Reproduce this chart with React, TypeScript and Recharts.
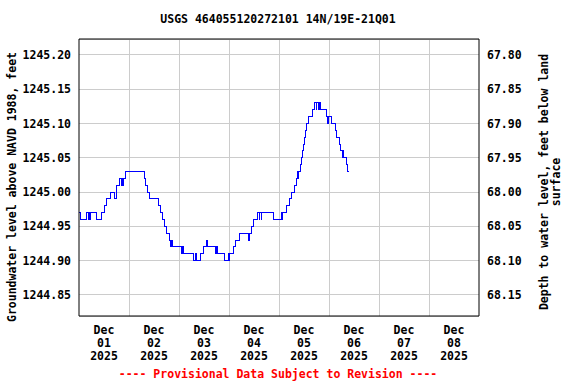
import React from 'react';
import {
  LineChart,
  Line,
  XAxis,
  YAxis,
  CartesianGrid,
  ReferenceLine
} from 'recharts';

// days since Dec 01 2025 00:00, and water level (feet above NAVD 1988)
const days = [
  0.0, 0.02, 0.14, 0.19, 0.2, 0.22, 0.23, 0.35, 0.45, 0.5, 0.55, 0.62, 0.7, 0.74, 0.8, 0.84, 0.85,
  0.87, 0.88, 0.92, 1.3, 1.33, 1.37, 1.41, 1.59, 1.62, 1.66, 1.71, 1.75, 1.8, 1.83, 1.84, 1.87,
  2.05, 2.07, 2.08, 2.29, 2.33, 2.35, 2.43, 2.49, 2.55, 2.56, 2.72, 2.74, 2.77, 2.9, 2.99, 3.0,
  3.01, 3.08, 3.13, 3.21, 3.39, 3.41, 3.45, 3.49, 3.57, 3.6, 3.61, 3.64, 3.65, 3.89, 4.05, 4.06,
  4.07, 4.14, 4.2, 4.25, 4.3, 4.34, 4.36, 4.37, 4.39, 4.42, 4.44, 4.46, 4.48, 4.5, 4.53, 4.55,
  4.59, 4.66, 4.71, 4.74, 4.75, 4.79, 4.8, 4.83, 4.95, 4.97, 4.98, 5.05, 5.12, 5.15, 5.2, 5.23,
  5.27, 5.28, 5.29, 5.34, 5.37, 5.39
];
const levels = [
  1244.97, 1244.96, 1244.97, 1244.96, 1244.97, 1244.96, 1244.97, 1244.96, 1244.97, 1244.98,
  1244.99, 1245.0, 1244.99, 1245.01, 1245.02, 1245.01, 1245.02, 1245.01, 1245.02, 1245.03,
  1245.02, 1245.01, 1245.0, 1244.99, 1244.98, 1244.97, 1244.96, 1244.95, 1244.94, 1244.93,
  1244.92, 1244.93, 1244.92, 1244.91, 1244.92, 1244.91, 1244.9, 1244.91, 1244.9, 1244.91,
  1244.92, 1244.93, 1244.92, 1244.91, 1244.92, 1244.91, 1244.9, 1244.91, 1244.9, 1244.91,
  1244.92, 1244.93, 1244.94, 1244.93, 1244.94, 1244.95, 1244.96, 1244.97, 1244.96, 1244.97,
  1244.96, 1244.97, 1244.96, 1244.97, 1244.96, 1244.97, 1244.98, 1244.99, 1245.0, 1245.01,
  1245.02, 1245.03, 1245.02, 1245.03, 1245.04, 1245.05, 1245.06, 1245.07, 1245.08, 1245.09,
  1245.1, 1245.11, 1245.12, 1245.13, 1245.12, 1245.13, 1245.12, 1245.13, 1245.12, 1245.11,
  1245.1, 1245.11, 1245.1, 1245.09, 1245.08, 1245.07, 1245.06, 1245.05, 1245.06, 1245.05,
  1245.04, 1245.03, 1245.03
];

const levelTicks = [1244.85, 1244.9, 1244.95, 1245.0, 1245.05, 1245.1, 1245.15, 1245.2];
const levelDomain = [1244.8193, 1245.2233];
const landSurface = 1313.0; // depth = landSurface - level
const dayBoundaries = [1, 2, 3, 4, 5, 6, 7];
const labelDays = [0.5, 1.5, 2.5, 3.5, 4.5, 5.5, 6.5, 7.5];
const dayLabels = ['01', '02', '03', '04', '05', '06', '07', '08'];

const data = days.map((d, i) => ({ day: d, level: levels[i] }));

const FONT = '"DejaVu Sans Mono", monospace';
const tickStyle = { fill: '#000', fontSize: 11.5, fontFamily: FONT, fontWeight: 'bold' };

const DayTick = ({ x, y, payload }: any) => {
  const i = Math.floor(payload.value);
  return (
    <text x={x} y={y} textAnchor="middle" {...tickStyle}>
      <tspan x={x} y={y + 18}>Dec</tspan>
      <tspan x={x} y={y + 31}>{dayLabels[i]}</tspan>
      <tspan x={x} y={y + 44}>2025</tspan>
    </text>
  );
};

const App = () => {
  return (
    <div style={{ position: 'absolute', left: 0, top: 0, width: 576, height: 384, background: '#fff' }}>
      <LineChart
        width={576}
        height={384}
        data={data}
        margin={{ top: 39, right: 37, bottom: 18, left: 7 }}
      >
        <CartesianGrid yAxisId="left" vertical={false} stroke="#cccccc" shapeRendering="crispEdges" />
        <XAxis
          dataKey="day"
          type="number"
          domain={[0, 8]}
          ticks={labelDays}
          interval={0}
          height={50}
          tickSize={0}
          tickMargin={0}
          tickLine={false}
          axisLine={{ stroke: '#000' }}
          tick={<DayTick />}
        />
        <YAxis
          yAxisId="left"
          type="number"
          domain={levelDomain}
          allowDataOverflow
          ticks={levelTicks}
          interval={0}
          width={72}
          tickLine={false}
          tickSize={3}
          tickMargin={5}
          axisLine={{ stroke: '#000' }}
          tick={tickStyle}
          tickFormatter={(v: number) => v.toFixed(2)}
        />
        <YAxis
          yAxisId="right"
          orientation="right"
          type="number"
          domain={levelDomain}
          allowDataOverflow
          ticks={levelTicks}
          interval={0}
          width={60}
          tickLine={false}
          tickSize={3}
          tickMargin={5}
          axisLine={{ stroke: '#000' }}
          tick={tickStyle}
          tickFormatter={(v: number) => (landSurface - v).toFixed(2)}
        />
        {dayBoundaries.map((d) => (
          <ReferenceLine key={d} x={d} yAxisId="left" stroke="#cccccc" shapeRendering="crispEdges" />
        ))}
        <ReferenceLine y={levelDomain[1]} yAxisId="left" stroke="#000" />
        <Line
          yAxisId="right"
          dataKey="level"
          type="stepAfter"
          stroke="none"
          dot={false}
          activeDot={false}
          isAnimationActive={false}
        />
        <Line
          yAxisId="left"
          dataKey="level"
          type="stepAfter"
          stroke="#0000ff"
          strokeWidth={1}
          shapeRendering="crispEdges"
          dot={false}
          activeDot={false}
          isAnimationActive={false}
        />
      </LineChart>
      <svg
        width={576}
        height={384}
        style={{ position: 'absolute', left: 0, top: 0, pointerEvents: 'none' }}
        fontFamily={FONT}
        fontWeight="bold"
        fontSize={11.5}
      >
        <text x={278} y={23} textAnchor="middle" fill="#000">
          USGS 464055120272101 14N/19E-21Q01
        </text>
        <text transform="translate(16,187) rotate(-90)" textAnchor="middle" fill="#000">
          Groundwater level above NAVD 1988, feet
        </text>
        <text transform="translate(548,182) rotate(-90)" textAnchor="middle" fill="#000">
          Depth to water level, feet below land
        </text>
        <text transform="translate(560,182) rotate(-90)" textAnchor="middle" fill="#000">
          surface
        </text>
        <text x={278} y={378} textAnchor="middle" fill="#ff0000">
          ---- Provisional Data Subject to Revision ----
        </text>
      </svg>
    </div>
  );
};

export default App;
